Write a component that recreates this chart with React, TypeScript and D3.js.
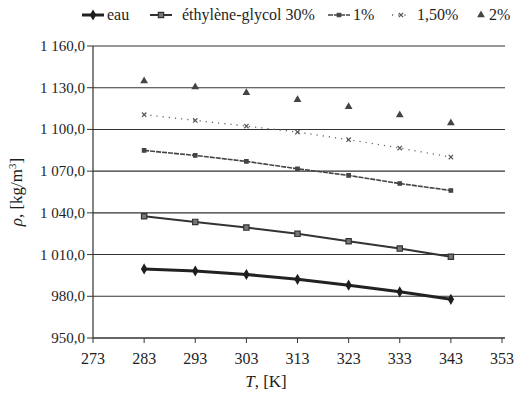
import React from "react";
import * as d3 from "d3";

const temps = [283, 293, 303, 313, 323, 333, 343];
const eau = [999.7, 998.2, 995.7, 992.2, 988.0, 983.2, 977.8];
const eg30 = [1037.6, 1033.5, 1029.4, 1024.9, 1019.6, 1014.3, 1008.4];
const p1 = [1084.9, 1081.3, 1077.0, 1071.7, 1066.9, 1061.1, 1056.1];
const p15 = [1110.6, 1106.5, 1102.4, 1098.1, 1092.6, 1086.6, 1080.1];
const p2 = [1134.8, 1130.5, 1126.4, 1121.4, 1116.3, 1110.4, 1104.6];
const xTicks = [273, 283, 293, 303, 313, 323, 333, 343, 353];
const yTicks = [950, 980, 1010, 1040, 1070, 1100, 1130, 1160];
const legendLabels = ["eau", "éthylène-glycol 30%", "1%", "1,50%", "2%"];

const W = 517, H = 399;
const L = 93, R = 502, T = 46, B = 338;

const x = d3.scaleLinear().domain([273, 353]).range([L, R]);
const y = d3.scaleLinear().domain([950, 1160]).range([B, T]);

const fmtY = (v: number) => {
  const s = v.toFixed(1).replace(".", ",");
  const [i, d] = s.split(",");
  const ii = i.length > 3 ? i.slice(0, i.length - 3) + " " + i.slice(i.length - 3) : i;
  return ii + "," + d;
};

const ink = "#1e1e1e";

type S = {
  name: string;
  vals: number[];
  width: number;
  dash: string | null;
  sym: d3.SymbolType;
  size: number;
  fill: string;
  stroke: string;
  lineColor: string;
};

const series: S[] = [
  { name: legendLabels[0], vals: eau, width: 3, dash: null, sym: d3.symbolDiamond, size: 22, fill: ink, stroke: ink, lineColor: "#222" },
  { name: legendLabels[1], vals: eg30, width: 2, dash: null, sym: d3.symbolSquare, size: 28, fill: "#777", stroke: "#333", lineColor: "#333" },
  { name: legendLabels[2], vals: p1, width: 1.6, dash: "5 1", sym: d3.symbolSquare, size: 12, fill: "#444", stroke: "#444", lineColor: "#444" },
  { name: legendLabels[3], vals: p15, width: 1.3, dash: "1.2 5", sym: d3.symbolTimes, size: 14, fill: "none", stroke: "#555", lineColor: "#666" },
  { name: legendLabels[4], vals: p2, width: 0, dash: null, sym: d3.symbolTriangle, size: 14, fill: "#444", stroke: "#444", lineColor: "none" },
];

const legendX = [82, 150, 328, 392, 476];
const legendTextX = [107, 182, 353, 417, 489];

export default function App() {
  const line = d3.line<number>().x((_, i) => x(temps[i])).y((v) => y(v));
  return (
    <svg className="rho-chart" width={W} height={H} style={{ position: "absolute", left: 0, top: 0 }}>
      <style>{`.rho-chart text, .rho-chart tspan { font-family: 'Liberation Serif' !important; }`}</style>
      <rect x={0} y={0} width={W} height={H} fill="#fff" />
      {yTicks.map((t) => (
        <line key={t} x1={L} x2={R + 3} y1={y(t)} y2={y(t)} stroke="#333" strokeWidth={t === 950 ? 1.4 : 1.1} />
      ))}
      <line x1={L} x2={L} y1={T} y2={B} stroke="#333" strokeWidth={1.2} />
      {yTicks.map((t) => (
        <line key={"ytl" + t} x1={L - 6} x2={L} y1={y(t)} y2={y(t)} stroke="#333" strokeWidth={1} />
      ))}
      {yTicks.map((t) => (
        <text key={"yt" + t} x={L - 8} y={y(t) + 5} textAnchor="end" fontSize={15} fill={ink}>{fmtY(t)}</text>
      ))}
      {xTicks.map((t) => (
        <line key={"xtl" + t} x1={x(t)} x2={x(t)} y1={B} y2={B + 5} stroke="#333" strokeWidth={1} />
      ))}
      {xTicks.map((t) => (
        <text key={"xt" + t} x={x(t)} y={B + 26} textAnchor="middle" fontSize={16} fill={ink}>{t}</text>
      ))}
      {series.map((s) =>
        s.width > 0 ? (
          <path key={"l" + s.name} d={line(s.vals) || ""} fill="none" stroke={s.lineColor} strokeWidth={s.width} strokeDasharray={s.dash || undefined} />
        ) : null
      )}
      {series.map((s) =>
        s.vals.map((v, i) => (
          <path
            key={s.name + i}
            d={d3.symbol().type(s.sym).size(s.size)() || ""}
            transform={`translate(${x(temps[i])},${y(v)})`}
            fill={s.fill}
            stroke={s.stroke}
            strokeWidth={1.2}
          />
        ))
      )}
      {series.map((s, k) =>
        s.width > 0 ? (
          <line key={"lgl" + k} x1={legendX[k]} x2={legendX[k] + (k === 3 ? 18 : 22)} y1={15} y2={15} stroke={s.lineColor} strokeWidth={s.width} strokeDasharray={s.dash || undefined} />
        ) : null
      )}
      {series.map((s, k) => (
        <path
          key={"lgm" + k}
          d={d3.symbol().type(s.sym).size(s.size)() || ""}
          transform={`translate(${legendX[k] + (k === 4 ? 5 : k === 3 ? 9 : 11)},15)`}
          fill={s.fill}
          stroke={s.stroke}
          strokeWidth={1.2}
        />
      ))}
      {series.map((s, k) => (
        <text key={"lgt" + k} x={legendTextX[k]} y={20} fontSize={16} fill={ink}>{s.name}</text>
      ))}
      <text x={266} y={387} textAnchor="middle" fontSize={17} fill={ink}>
        <tspan fontStyle="italic">T</tspan>, [K]
      </text>
      <text transform="translate(22,192) rotate(-90)" textAnchor="middle" fontSize={17} fill={ink}>
        <tspan fontStyle="italic">ρ</tspan>, [kg/m<tspan dy="-6" fontSize={11}>3</tspan><tspan dy="6">]</tspan>
      </text>
    </svg>
  );
}
